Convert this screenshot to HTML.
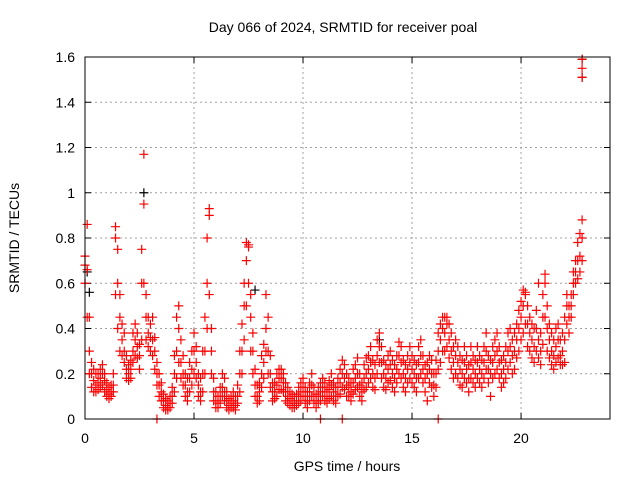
<!DOCTYPE html>
<html><head><meta charset="utf-8"><style>
body{margin:0;background:#fff}
svg{display:block;font-family:"Liberation Sans",sans-serif}
</style></head><body>
<svg id="c" width="640" height="480">
<text x="343" y="32" text-anchor="middle" font-size="14">Day 066 of 2024, SRMTID for receiver poal</text>
<text x="347" y="471" text-anchor="middle" font-size="14">GPS time / hours</text>
<text transform="translate(19,238) rotate(-90)" text-anchor="middle" font-size="14">SRMTID / TECUs</text>
<g id="grid"></g><g id="ticks"></g><g id="marks"></g>
<rect x="85" y="57" width="525" height="362" fill="none" stroke="#000" stroke-width="1"/>
</svg>
<script>
const xTicks=[0,5,10,15,20];
const yTicks=[0,0.2,0.4,0.6,0.8,1,1.2,1.4,1.6];
const yTickLabels=["0","0.2","0.4","0.6","0.8","1","1.2","1.4","1.6"];
const tStep=0.1;
const seriesMid=[0.68,0.66,0.3,0.2,0.17,0.15,0.16,0.18,0.2,0.17,
0.13,0.11,0.12,0.15,0.8,0.6,0.45,0.35,0.3,0.22,
0.2,0.22,0.3,0.35,0.32,0.28,0.6,0.95,0.45,0.38,
0.36,0.35,0.3,0.2,0.15,0.12,0.08,0.06,0.05,0.07,
0.1,0.2,0.3,0.4,0.25,0.2,0.15,0.12,0.18,0.22,
0.3,0.25,0.15,0.12,0.2,0.3,0.6,0.9,0.3,0.12,
0.08,0.07,0.1,0.14,0.12,0.08,0.06,0.07,0.08,0.06,
0.1,0.2,0.3,0.5,0.7,0.77,0.45,0.3,0.15,0.1,
0.12,0.2,0.25,0.4,0.3,0.2,0.12,0.12,0.15,0.18,
0.18,0.16,0.12,0.1,0.09,0.08,0.07,0.08,0.1,0.12,
0.14,0.1,0.08,0.12,0.15,0.1,0.08,0.1,0.12,0.14,
0.12,0.1,0.13,0.15,0.12,0.1,0.14,0.16,0.2,0.18,
0.15,0.14,0.12,0.16,0.18,0.2,0.15,0.12,0.18,0.2,
0.22,0.25,0.2,0.18,0.28,0.32,0.25,0.2,0.18,0.22,
0.24,0.2,0.18,0.22,0.28,0.25,0.2,0.18,0.22,0.25,
0.22,0.2,0.18,0.25,0.28,0.22,0.18,0.2,0.22,0.2,
0.15,0.2,0.3,0.35,0.4,0.38,0.42,0.35,0.3,0.25,
0.28,0.25,0.22,0.2,0.25,0.22,0.18,0.25,0.22,0.2,
0.25,0.22,0.2,0.25,0.3,0.22,0.2,0.25,0.28,0.3,
0.25,0.2,0.22,0.25,0.3,0.32,0.28,0.3,0.35,0.4,
0.45,0.5,0.55,0.42,0.38,0.35,0.32,0.4,0.35,0.3,
0.45,0.6,0.4,0.35,0.3,0.28,0.32,0.35,0.28,0.3,
0.35,0.5,0.45,0.5,0.6,0.65,0.7,0.72,0.8];
const seriesLow=[0.6,0.45,0.2,0.14,0.12,0.12,0.13,0.14,0.15,0.12,
0.1,0.09,0.1,0.12,0.55,0.4,0.3,0.28,0.25,0.18,
0.17,0.18,0.25,0.28,0.27,0.22,0.35,0.6,0.35,0.32,
0.3,0.28,0.22,0.15,0.1,0.08,0.05,0.04,0.04,0.05,
0.07,0.12,0.18,0.25,0.18,0.15,0.1,0.08,0.12,0.15,
0.2,0.18,0.1,0.08,0.12,0.2,0.4,0.55,0.2,0.08,
0.05,0.05,0.07,0.1,0.08,0.05,0.04,0.05,0.05,0.04,
0.07,0.12,0.2,0.35,0.5,0.6,0.3,0.2,0.1,0.07,
0.08,0.14,0.18,0.3,0.2,0.14,0.08,0.09,0.1,0.13,
0.13,0.12,0.08,0.07,0.06,0.05,0.05,0.06,0.07,0.08,
0.1,0.07,0.05,0.08,0.1,0.07,0.05,0.07,0.08,0.1,
0.08,0.07,0.09,0.1,0.08,0.07,0.1,0.11,0.14,0.13,
0.1,0.1,0.08,0.11,0.13,0.14,0.1,0.08,0.13,0.14,
0.16,0.18,0.14,0.13,0.2,0.25,0.18,0.14,0.13,0.16,
0.17,0.14,0.12,0.16,0.2,0.18,0.14,0.12,0.16,0.18,
0.16,0.14,0.12,0.18,0.2,0.16,0.12,0.08,0.16,0.14,
0.1,0.14,0.22,0.25,0.3,0.3,0.32,0.27,0.22,0.18,
0.2,0.18,0.15,0.14,0.18,0.16,0.12,0.18,0.16,0.14,
0.18,0.16,0.14,0.18,0.22,0.16,0.1,0.18,0.2,0.22,
0.18,0.14,0.16,0.18,0.22,0.25,0.2,0.22,0.27,0.3,
0.35,0.38,0.42,0.32,0.3,0.27,0.25,0.3,0.27,0.24,
0.33,0.45,0.3,0.27,0.24,0.22,0.25,0.27,0.24,0.24,
0.25,0.42,0.38,0.45,0.55,0.6,0.62,0.65,0.7];
const seriesHigh=[0.72,0.86,0.45,0.25,0.22,0.2,0.2,0.22,0.24,0.2,
0.16,0.14,0.15,0.2,0.85,0.75,0.55,0.42,0.38,0.28,
0.24,0.26,0.38,0.42,0.38,0.33,0.75,1.17,0.55,0.45,
0.42,0.45,0.36,0.25,0.2,0.16,0.11,0.09,0.08,0.1,
0.14,0.28,0.45,0.5,0.35,0.28,0.2,0.18,0.25,0.3,
0.38,0.32,0.2,0.18,0.3,0.45,0.8,0.93,0.4,0.18,
0.12,0.1,0.14,0.2,0.18,0.12,0.09,0.1,0.12,0.1,
0.15,0.3,0.42,0.6,0.78,0.76,0.55,0.38,0.22,0.15,
0.16,0.28,0.33,0.55,0.45,0.28,0.16,0.16,0.2,0.22,
0.22,0.2,0.16,0.14,0.12,0.11,0.1,0.11,0.14,0.16,
0.18,0.14,0.12,0.16,0.2,0.14,0.11,0.14,0.16,0.18,
0.16,0.14,0.17,0.2,0.16,0.14,0.18,0.22,0.26,0.24,
0.2,0.18,0.16,0.22,0.24,0.27,0.2,0.16,0.24,0.27,
0.28,0.32,0.26,0.24,0.35,0.38,0.32,0.26,0.24,0.28,
0.3,0.26,0.24,0.28,0.34,0.32,0.26,0.24,0.28,0.32,
0.28,0.26,0.24,0.32,0.35,0.28,0.24,0.25,0.28,0.26,
0.2,0.26,0.38,0.42,0.45,0.45,0.45,0.42,0.38,0.32,
0.35,0.32,0.28,0.26,0.32,0.28,0.24,0.32,0.28,0.26,
0.32,0.28,0.26,0.32,0.38,0.28,0.26,0.32,0.35,0.38,
0.32,0.26,0.28,0.32,0.38,0.4,0.35,0.38,0.42,0.48,
0.52,0.57,0.56,0.5,0.45,0.42,0.4,0.48,0.6,0.38,
0.55,0.64,0.5,0.42,0.38,0.35,0.4,0.42,0.35,0.38,
0.45,0.55,0.5,0.55,0.65,0.7,0.78,0.82,0.88];
const extraTimes=[22.8,22.8,22.8,3.3,10.8,11.8,16.2];
const extraValues=[1.59,1.55,1.51,0,0,0,0];
const blackTimes=[22.8,22.8,0.1,2.7,7.8,0.2,13.5];
const blackValues=[1.59,1.51,0.65,1.0,0.57,0.56,0.35];

const X0=85,X1=610,Y0=419,Y1=57,XMAX=24.08,YMAX=1.6;
const xs=t=>X0+(X1-X0)*t/XMAX;
const ys=v=>Y0-(Y0-Y1)*v/YMAX;
const NS="http://www.w3.org/2000/svg";
const grid=document.getElementById('grid'),ticks=document.getElementById('ticks'),marks=document.getElementById('marks');
function mk(tag,attrs,parent){const e=document.createElementNS(NS,tag);for(const k in attrs)e.setAttribute(k,attrs[k]);parent.appendChild(e);return e;}
xTicks.forEach(t=>{
  const x=xs(t);
  if(t>0){const g=mk('line',{x1:x,x2:x,y1:Y0,y2:Y1,stroke:'#a0a0a0','stroke-dasharray':'2,3'},grid);
  
  }
  mk('line',{x1:x,x2:x,y1:Y0,y2:Y0-6,stroke:'#000'},ticks);
  mk('line',{x1:x,x2:x,y1:Y1,y2:Y1+6,stroke:'#000'},ticks);
  const l=mk('text',{x:x,y:Y0+24,'text-anchor':'middle','font-size':'14'},ticks);l.textContent=t;
  
  
});
yTicks.forEach((v,i)=>{
  const y=ys(v);
  if(v>0&&v<YMAX){const g=mk('line',{x1:X0,x2:X1,y1:y,y2:y,stroke:'#a0a0a0','stroke-dasharray':'2,3'},grid);
  
  }
  mk('line',{x1:X0,x2:X0+6,y1:y,y2:y,stroke:'#000'},ticks);
  mk('line',{x1:X1,x2:X1-6,y1:y,y2:y,stroke:'#000'},ticks);
  const l=mk('text',{x:X0-10,y:y+5,'text-anchor':'end','font-size':'14'},ticks);l.textContent=yTickLabels[i];
  
  
});
function cross(t,v,col){
  const x=xs(t),y=ys(v);
  const p=mk('path',{d:`M${x-4.5} ${y}h9M${x} ${y-4.5}v9`,stroke:col,'stroke-width':1.2,fill:'none'},marks);
  
  
}
blackTimes.forEach((t,i)=>cross(t,blackValues[i],'#000'));
[seriesLow,seriesMid,seriesHigh].forEach(s=>s.forEach((v,i)=>cross(i*tStep,v,'#f00')));
extraTimes.forEach((t,i)=>cross(t,extraValues[i],'#f00'));
</script>
</body></html>
